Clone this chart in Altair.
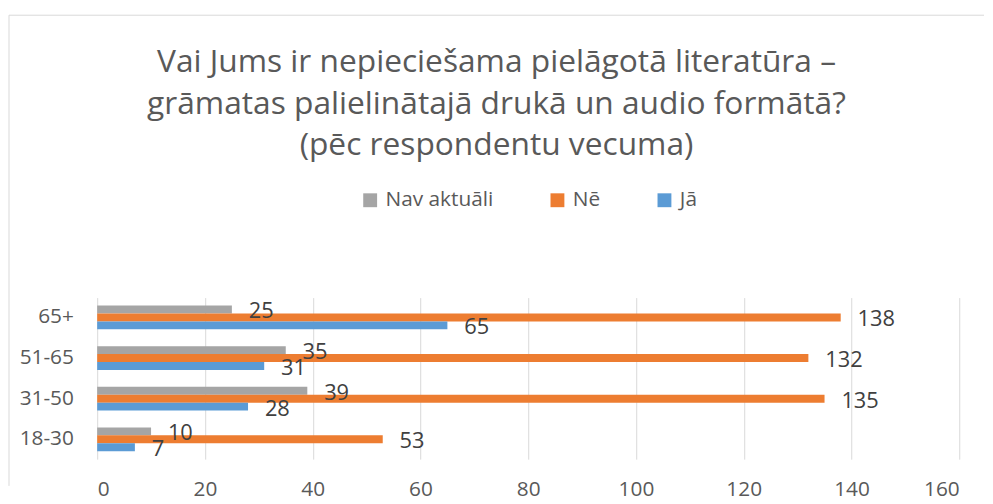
import altair as alt
import pandas as pd

categories = ["65+", "51-65", "31-50", "18-30"]
series = ["Nav aktuāli", "Nē", "Jā"]
nav_aktuali = [25, 35, 39, 10]
ne = [138, 132, 135, 53]
ja = [65, 31, 28, 7]
colors = ["#a5a5a5", "#ed7d31", "#5b9bd5"]
x_ticks = [0, 20, 40, 60, 80, 100, 120, 140, 160]

rows = []
for s, vals in zip(series, [nav_aktuali, ne, ja]):
    for c, v in zip(categories, vals):
        rows.append({"Vecums": c, "Atbilde": s, "Skaits": v})
df = pd.DataFrame(rows)

FONT = "Open Sans"
GREY_TXT = "#595959"

base = alt.Chart(df).encode(
    y=alt.Y("Vecums:N", sort=categories,
            scale=alt.Scale(paddingInner=0.415, paddingOuter=0.195),
            axis=alt.Axis(title=None, ticks=False, domain=False, labelPadding=24,
                          labelFontSize=21, labelFont=FONT, labelColor=GREY_TXT)),
    yOffset=alt.YOffset("Atbilde:N", sort=series,
                        scale=alt.Scale(paddingInner=0, paddingOuter=0)),
)

bars = base.mark_bar().encode(
    x=alt.X("Skaits:Q", scale=alt.Scale(domain=[0, 160], nice=False),
            axis=alt.Axis(title=None, values=x_ticks, ticks=False, domain=False,
                          grid=True, gridColor="#d9d9d9", gridWidth=1,
                          labelPadding=20, labelFontSize=21, labelFont=FONT,
                          labelColor=GREY_TXT)),
    color=alt.Color("Atbilde:N", sort=series,
                    scale=alt.Scale(domain=series, range=colors),
                    legend=alt.Legend(title=None, orient="none", direction="horizontal",
                                      legendX=265, legendY=-109, symbolType="square",
                                      symbolSize=196, symbolStrokeWidth=0,
                                      labelFontSize=21, labelFont=FONT,
                                      labelColor=GREY_TXT, labelOffset=5,
                                      columnPadding=54, padding=0)),
)

labels = base.mark_text(align="left", baseline="middle", dx=17, dy=2,
                        fontSize=22, font=FONT, color="#404040").encode(
    x="Skaits:Q",
    text="Skaits:Q",
)

one = alt.Data(values=[{"k": 1}])
border_top = alt.Chart(one).mark_rule(color="#d9d9d9", strokeWidth=1).encode(
    x=alt.value(-89), x2=alt.value(895), y=alt.value(-285))
border_left = alt.Chart(one).mark_rule(color="#d9d9d9", strokeWidth=1).encode(
    x=alt.value(-89), y=alt.value(-285), y2=alt.value(190))

chart = alt.layer(border_top, border_left, bars, labels).properties(
    width=870, height=163,
    padding={"left": 0, "top": 4, "right": 0, "bottom": 0},
    title=alt.TitleParams(
        text=["Vai Jums ir nepieciešama pielāgotā literatūra –",
              "grāmatas palielinātajā drukā un audio formātā?",
              "(pēc respondentu vecuma)"],
        fontSize=32, font=FONT, color=GREY_TXT, fontWeight="normal",
        lineHeight=42, anchor="middle", offset=-149, dx=-32),
).configure_view(stroke=None)

chart.save("out.html", embed_options={"renderer": "svg", "actions": False})
